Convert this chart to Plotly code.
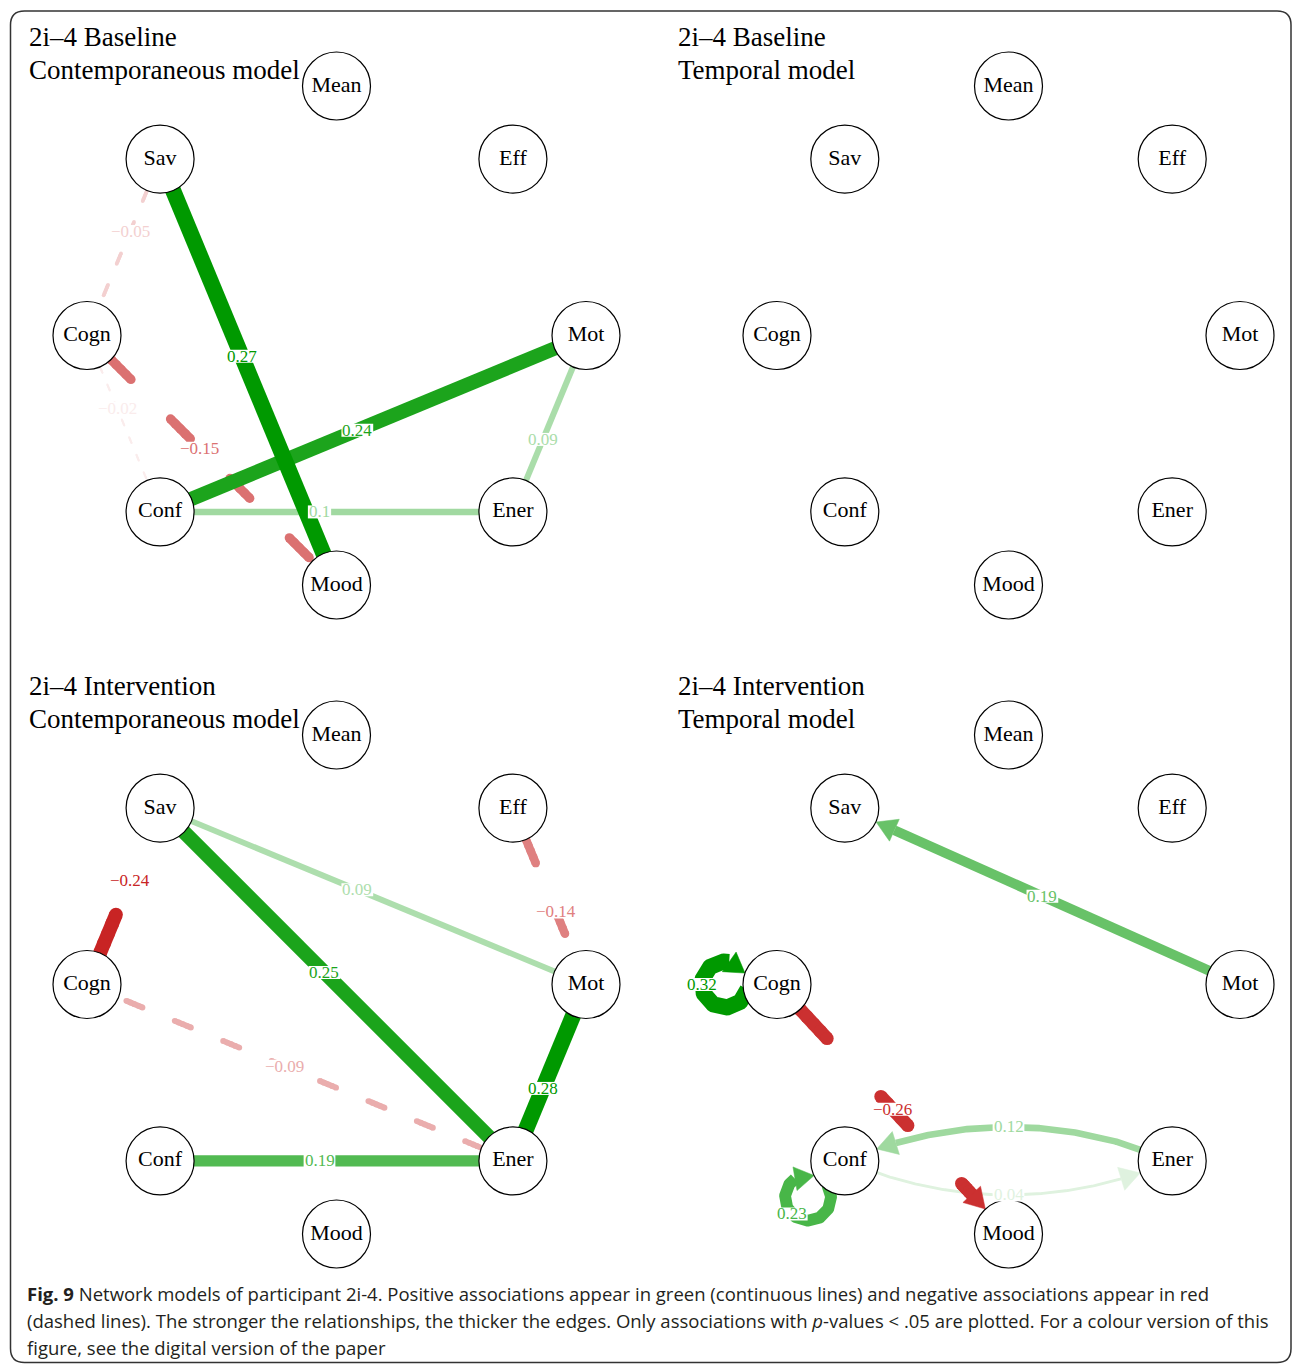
import numpy as np
import plotly.graph_objects as go

FIG_W, FIG_H = 1293, 1364

# ------------------------------------------------------------------ data
# node order of the qgraph circle layout (counter-clockwise, starting at the top)
NODE_ORDER = ["Mean", "Sav", "Cogn", "Conf", "Mood", "Ener", "Mot", "Eff"]

TITLES_LINE1 = ["2i\u20134 Baseline", "2i\u20134 Baseline", "2i\u20134 Intervention", "2i\u20134 Intervention"]
TITLES_LINE2 = ["Contemporaneous model", "Temporal model", "Contemporaneous model", "Temporal model"]

# Baseline – contemporaneous (undirected partial correlations)
BASE_CONT_FROM = ["Cogn", "Sav", "Ener", "Conf", "Cogn", "Conf", "Sav"]
BASE_CONT_TO = ["Conf", "Cogn", "Mot", "Ener", "Mood", "Mot", "Mood"]
BASE_CONT_W = [-0.02, -0.05, 0.09, 0.10, -0.15, 0.24, 0.27]

# Baseline – temporal (no significant edges)
BASE_TEMP_FROM = []
BASE_TEMP_TO = []
BASE_TEMP_W = []

# Intervention – contemporaneous
INT_CONT_FROM = ["Sav", "Ener", "Eff", "Conf", "Cogn", "Sav", "Ener"]
INT_CONT_TO = ["Mot", "Cogn", "Mot", "Ener", "Sav", "Ener", "Mot"]
INT_CONT_W = [0.09, -0.09, -0.14, 0.19, -0.24, 0.25, 0.28]

# Intervention – temporal (directed)
INT_TEMP_FROM = ["Conf", "Ener", "Mot", "Conf", "Cogn", "Cogn"]
INT_TEMP_TO = ["Ener", "Conf", "Sav", "Conf", "Mood", "Cogn"]
INT_TEMP_W = [0.04, 0.12, 0.19, 0.23, -0.26, 0.32]

CAPTION_LINES = [
    "<b>Fig. 9</b> Network models of participant 2i-4. Positive associations appear in green (continuous lines) and negative associations appear in red",
    "(dashed lines). The stronger the relationships, the thicker the edges. Only associations with <i>p</i>-values &lt; .05 are plotted. For a colour version of this",
    "figure, see the digital version of the paper",
]

# ------------------------------------------------------------------ style / layout
# label offset (px) from the edge midpoint toward the "from" node (qgraph style)
BASE_CONT_LABEL_SHIFT = [17, 17, 17, 17, 17, 17, 17]
BASE_TEMP_LABEL_SHIFT = []
INT_CONT_LABEL_SHIFT = [17, -17, -17, 17, -17, 17, 17]
INT_TEMP_LABEL_SHIFT = [0, 0, 0, 0, 0, 0]

PANEL_DATA = [
    (BASE_CONT_FROM, BASE_CONT_TO, BASE_CONT_W, BASE_CONT_LABEL_SHIFT, False),
    (BASE_TEMP_FROM, BASE_TEMP_TO, BASE_TEMP_W, BASE_TEMP_LABEL_SHIFT, True),
    (INT_CONT_FROM, INT_CONT_TO, INT_CONT_W, INT_CONT_LABEL_SHIFT, False),
    (INT_TEMP_FROM, INT_TEMP_TO, INT_TEMP_W, INT_TEMP_LABEL_SHIFT, True),
]

PANELS = [
    dict(cx=336.5, cy=335.5, rx=249.5, ry=249.5, box=(12, 14, 655, 645)),
    dict(cx=1008.5, cy=335.5, rx=231.5, ry=249.5, box=(660, 14, 1290, 645)),
    dict(cx=336.5, cy=984.5, rx=249.5, ry=249.5, box=(12, 655, 655, 1275)),
    dict(cx=1008.5, cy=984.5, rx=231.5, ry=249.5, box=(660, 655, 1290, 1275)),
]
TITLE_XY = [(27, 37), (676, 37), (27, 686), (676, 686)]
TITLE_GAP = 33

SERIF = "Liberation Serif"
SANS = "Open Sans"
R_NODE = 34.0
NODE_D = 68
ARROW_LEN, ARROW_W = 20.0, 24.0
CURVE_PX = 68.0
LOOP_D, LOOP_R = 52.0, 23.0
LABEL_FS = 17
DASH_ON, DASH_PER = 3.0, 9.0
POS_BASE = (0, 153, 0)
NEG_BASE = (191, 0, 0)
CHAR_W = {".": 0.25, "\u2212": 0.564}


def edge_color(w, wmax):
    a = abs(w) / wmax
    base = POS_BASE if w > 0 else NEG_BASE
    r, g, b = [int(round(255 + (c - 255) * a)) for c in base]
    return f"rgb({r},{g},{b})"


def edge_width(w, wmax):
    return 1.0 + 15.0 * abs(w) / wmax


def fmt(w):
    s = ("%.2f" % abs(w)).rstrip("0").rstrip(".")
    return ("\u2212" if w < 0 else "") + s


LAYOUT_XY = {n: (np.cos(np.radians(90 + 45 * i)), np.sin(np.radians(90 + 45 * i)))
             for i, n in enumerate(NODE_ORDER)}


def node_px(P, name):
    x, y = LAYOUT_XY[name]
    return np.array([P["cx"] + P["rx"] * x, P["cy"] - P["ry"] * y])


def to_data(P, pts):
    pts = np.atleast_2d(pts)
    return (pts[:, 0] - P["cx"]) / P["rx"], (P["cy"] - pts[:, 1]) / P["ry"]


def cumlen(pts):
    return np.concatenate([[0.0], np.cumsum(np.linalg.norm(np.diff(pts, axis=0), axis=1))])


def sub_path(pts, s, a, b, n=5):
    ss = np.linspace(a, b, n)
    return np.column_stack([np.interp(ss, s, pts[:, 0]), np.interp(ss, s, pts[:, 1])])


def edge_path(A, B, curve):
    t = np.linspace(0, 1, 1200)[:, None]
    if curve:
        d = (B - A) / np.linalg.norm(B - A)
        nrm = np.array([-d[1], d[0]])
        C = (A + B) / 2 + nrm * curve
        return (1 - t) ** 2 * A + 2 * t * (1 - t) * C + t ** 2 * B, C
    return A + t * (B - A), None


def trim(pts, A, B):
    dA = np.linalg.norm(pts - A, axis=1)
    dB = np.linalg.norm(pts - B, axis=1)
    return pts[(dA >= R_NODE) & (dB >= R_NODE)]


def split_arrow(pts):
    s = cumlen(pts)
    L = s[-1]
    tip = pts[-1]
    line = sub_path(pts, s, 0, L - ARROW_LEN, 200)
    return line, tip, line[-1]


def dash_segments(pts, w):
    s = cumlen(pts)
    L = s[-1]
    on, per = DASH_ON * w, DASH_PER * w
    segs, a = [], 0.0
    while a < L:
        segs.append(sub_path(pts, s, a, min(a + on, L)))
        a += per
    return segs


def arrow_poly(tip, base):
    d = tip - base
    d = d / np.linalg.norm(d)
    n = np.array([-d[1], d[0]])
    return np.array([tip, base + n * ARROW_W / 2, base - n * ARROW_W / 2, tip])


fig = go.Figure()
shapes, annotations, axes = [], [], {}


def add_segs(segs, P, xa, ya, col, w, caps):
    xs, ys = [], []
    for seg in segs:
        x, y = to_data(P, seg)
        xs += list(x) + [None]
        ys += list(y) + [None]
    fig.add_trace(go.Scatter(
        x=xs, y=ys, xaxis=xa, yaxis=ya, mode="lines+markers" if caps else "lines",
        line=dict(color=col, width=w), marker=dict(size=w, color=col, line=dict(width=0)),
        hoverinfo="skip", showlegend=False, cliponaxis=False))


def add_arrow(tip, base, P, xa, ya, col):
    x, y = to_data(P, arrow_poly(tip, base))
    fig.add_trace(go.Scatter(
        x=x, y=y, xaxis=xa, yaxis=ya, mode="lines", fill="toself", fillcolor=col,
        line=dict(color=col, width=0.5), hoverinfo="skip", showlegend=False, cliponaxis=False))


def add_label(pos, text, col, P, xa, ya):
    lx, ly = to_data(P, pos)
    tw = sum(CHAR_W.get(c, 0.5) for c in text) * LABEL_FS
    shapes.append(dict(type="rect", xref=xa, yref=ya, xsizemode="pixel", ysizemode="pixel",
                       xanchor=float(lx[0]), yanchor=float(ly[0]), x0=-tw / 2 - 1, x1=tw / 2 + 1,
                       y0=-6.5, y1=6.5, fillcolor="white", line=dict(width=0), layer="above"))
    annotations.append(dict(xref=xa, yref=ya, x=float(lx[0]), y=float(ly[0]), text=text,
                            showarrow=False, xanchor="center", yanchor="middle",
                            font=dict(family=SERIF, size=LABEL_FS, color=col)))


for k, P in enumerate(PANELS):
    sfx = "" if k == 0 else str(k + 1)
    xa, ya = "x" + sfx, "y" + sfx
    x0, y0, x1, y1 = P["box"]
    axes["xaxis" + sfx] = dict(domain=[x0 / FIG_W, x1 / FIG_W],
                               range=[(x0 - P["cx"]) / P["rx"], (x1 - P["cx"]) / P["rx"]],
                               visible=False, fixedrange=True, anchor=ya)
    axes["yaxis" + sfx] = dict(domain=[1 - y1 / FIG_H, 1 - y0 / FIG_H],
                               range=[(P["cy"] - y1) / P["ry"], (P["cy"] - y0) / P["ry"]],
                               visible=False, fixedrange=True, anchor=xa)

    frm, to, wts, shifts, directed = PANEL_DATA[k]
    wmax = max([abs(w) for w in wts]) if wts else 1.0
    pairset = set(zip(frm, to))
    for f, t, w, sh in zip(frm, to, wts, shifts):
        col, lw = edge_color(w, wmax), edge_width(w, wmax)
        dashed = w < 0
        A, B = node_px(P, f), node_px(P, t)
        if f == t:
            ux, uy = LAYOUT_XY[f]
            u = np.array([ux, -uy])
            u = u / np.linalg.norm(u)
            C = A + LOOP_D * u
            th_n = np.arctan2(-u[1], -u[0])
            phi = np.arccos((LOOP_D ** 2 + LOOP_R ** 2 - R_NODE ** 2) / (2 * LOOP_D * LOOP_R))
            a_start = th_n + phi
            a_tip = th_n + 2 * np.pi - phi
            a_base = a_tip - ARROW_LEN / LOOP_R
            aa = np.linspace(a_start - 0.3, a_base, 200)
            arc = C + LOOP_R * np.column_stack([np.cos(aa), np.sin(aa)])
            add_segs([arc], P, xa, ya, col, lw, False)
            tip = C + LOOP_R * np.array([np.cos(a_tip), np.sin(a_tip)])
            base = C + LOOP_R * np.array([np.cos(a_base), np.sin(a_base)])
            add_arrow(tip, base, P, xa, ya, col)
            lab = C + LOOP_R * u
        else:
            curve = CURVE_PX if (directed and (t, f) in pairset) else 0.0
            pts, ctrl = edge_path(A, B, curve)
            tr = trim(pts, A, B)
            if directed:
                line, tip, base = split_arrow(tr)
            else:
                line = tr
            if dashed:
                add_segs(dash_segments(line, lw), P, xa, ya, col, lw, True)
            elif directed:
                add_segs([np.vstack([A, line])], P, xa, ya, col, lw, False)
            else:
                add_segs([np.array([A, B])], P, xa, ya, col, lw, False)
            if directed:
                add_arrow(tip, base, P, xa, ya, col)
            if curve:
                lab = 0.25 * A + 0.5 * ctrl + 0.25 * B
            else:
                d = (A - B) / np.linalg.norm(A - B)
                lab = (A + B) / 2 + sh * d
        add_label(lab, fmt(w), col, P, xa, ya)

    # nodes
    fig.add_trace(go.Scatter(
        x=[LAYOUT_XY[n][0] for n in NODE_ORDER], y=[LAYOUT_XY[n][1] for n in NODE_ORDER],
        xaxis=xa, yaxis=ya, mode="markers+text", text=NODE_ORDER, textposition="middle center",
        textfont=dict(family=SERIF, size=22, color="black"),
        marker=dict(size=NODE_D, color="white", line=dict(color="black", width=1.2)),
        hoverinfo="skip", showlegend=False, cliponaxis=False))

    tx, ty = TITLE_XY[k]
    for j, txt in enumerate([TITLES_LINE1[k], TITLES_LINE2[k]]):
        annotations.append(dict(xref="paper", yref="paper", x=tx / FIG_W, y=1 - (ty + j * TITLE_GAP) / FIG_H,
                                text=txt, showarrow=False, xanchor="left", yanchor="middle",
                                font=dict(family=SERIF, size=27, color="black")))

# caption
for j, txt in enumerate(CAPTION_LINES):
    annotations.append(dict(xref="paper", yref="paper", x=25 / FIG_W, y=1 - (1293 + 27 * j) / FIG_H,
                            text=txt, showarrow=False, xanchor="left", yanchor="middle",
                            font=dict(family=SANS, size=18.5, color="#231f20")))

# rounded frame
L_, T_, R_, B_, rr = 10.5, 11.0, 1291.0, 1362.5, 14.0
X = lambda v: v / FIG_W
Y = lambda v: 1 - v / FIG_H
frame = (f"M {X(L_ + rr)},{Y(T_)} L {X(R_ - rr)},{Y(T_)} Q {X(R_)},{Y(T_)} {X(R_)},{Y(T_ + rr)} "
         f"L {X(R_)},{Y(B_ - rr)} Q {X(R_)},{Y(B_)} {X(R_ - rr)},{Y(B_)} "
         f"L {X(L_ + rr)},{Y(B_)} Q {X(L_)},{Y(B_)} {X(L_)},{Y(B_ - rr)} "
         f"L {X(L_)},{Y(T_ + rr)} Q {X(L_)},{Y(T_)} {X(L_ + rr)},{Y(T_)} Z")
shapes.append(dict(type="path", xref="paper", yref="paper", path=frame,
                   line=dict(color="#333333", width=1.5), layer="above"))

fig.update_layout(width=FIG_W, height=FIG_H, margin=dict(l=0, r=0, t=0, b=0, pad=0),
                  paper_bgcolor="white", plot_bgcolor="white", showlegend=False,
                  shapes=shapes, annotations=annotations, **axes)
fig.write_html("out.html")
